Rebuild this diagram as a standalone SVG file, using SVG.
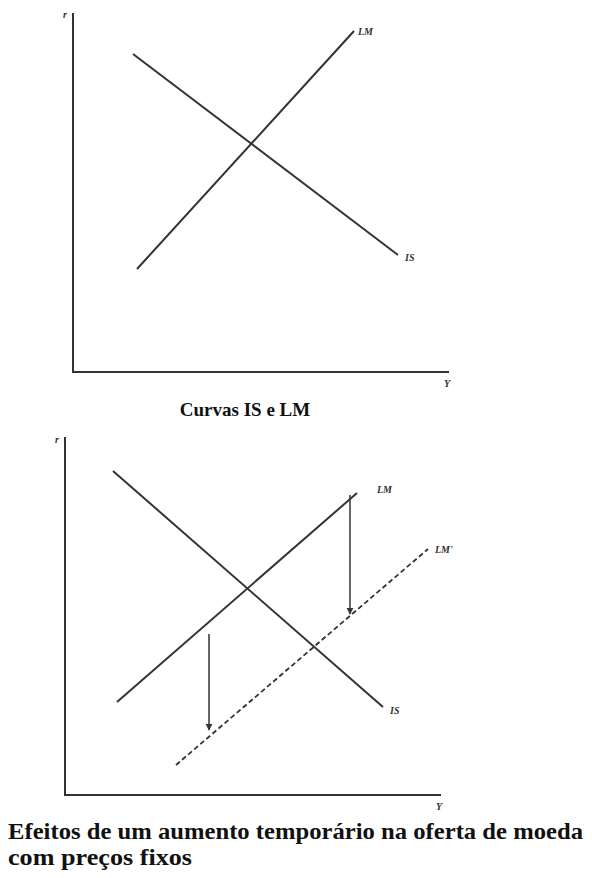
<svg xmlns="http://www.w3.org/2000/svg" width="592" height="878" viewBox="0 0 592 878">
<defs>
<style>
.ax{stroke:#333;stroke-width:2;fill:none}
.ln{stroke:#333;stroke-width:2;fill:none}
.dash{stroke:#333;stroke-width:1.8;fill:none;stroke-dasharray:5,3}
.arr{stroke:#333;stroke-width:1.5;fill:none}
.lab{font-family:"Liberation Serif",serif;font-style:italic;font-weight:bold;font-size:10px;fill:#333}
.ttl{font-family:"Liberation Serif",serif;font-weight:bold;font-size:19px;fill:#111}
.ttl2{font-family:"Liberation Serif",serif;font-weight:bold;font-size:23px;fill:#111}
</style>
<marker id="ah" viewBox="0 0 10 10" refX="9" refY="5" markerWidth="7" markerHeight="8" orient="auto" markerUnits="userSpaceOnUse">
<path d="M0,0 L10,5 L0,10 Z" fill="#333"/>
</marker>
</defs>
<rect width="592" height="878" fill="#fff"/>
<g id="chart1">
<g id="axes1">
<path class="ax" d="M73,13 V372 H449"/>
<text class="lab" x="63" y="18" font-size="8">r</text>
<text class="lab" x="444" y="387">Y</text>
</g>
<g id="connectors1">
<line id="LM1" class="ln" x1="137" y1="269" x2="354" y2="31"/>
<line id="IS1" class="ln" x1="133" y1="54" x2="398" y2="255"/>
</g>
<text class="lab" x="358" y="35">LM</text>
<text class="lab" x="405" y="261">IS</text>
<text class="ttl" x="245" y="416" text-anchor="middle">Curvas IS e LM</text>
</g>
<g id="chart2">
<g id="axes2">
<path class="ax" d="M65,437 V795 H441"/>
<text class="lab" x="55" y="443" font-size="8">r</text>
<text class="lab" x="436" y="810">Y</text>
</g>
<g id="connectors2">
<line id="LM2" class="ln" x1="117" y1="702" x2="357" y2="493"/>
<line id="LMp" class="dash" x1="176" y1="765" x2="428" y2="549"/>
<line id="IS2" class="ln" x1="113" y1="471" x2="383" y2="707"/>
<line id="arrow1" class="arr" x1="350" y1="495" x2="350" y2="614" marker-end="url(#ah)"/>
<line id="arrow2" class="arr" x1="209" y1="634" x2="209" y2="730" marker-end="url(#ah)"/>
</g>
<text class="lab" x="377" y="493">LM</text>
<text class="lab" x="435" y="553">LM'</text>
<text class="lab" x="390" y="714">IS</text>
<text class="ttl2" x="8" y="839" textLength="575" lengthAdjust="spacingAndGlyphs">Efeitos de um aumento temporário na oferta de moeda</text>
<text class="ttl2" x="8" y="865" textLength="184" lengthAdjust="spacingAndGlyphs">com preços fixos</text>
</g>
</svg>
